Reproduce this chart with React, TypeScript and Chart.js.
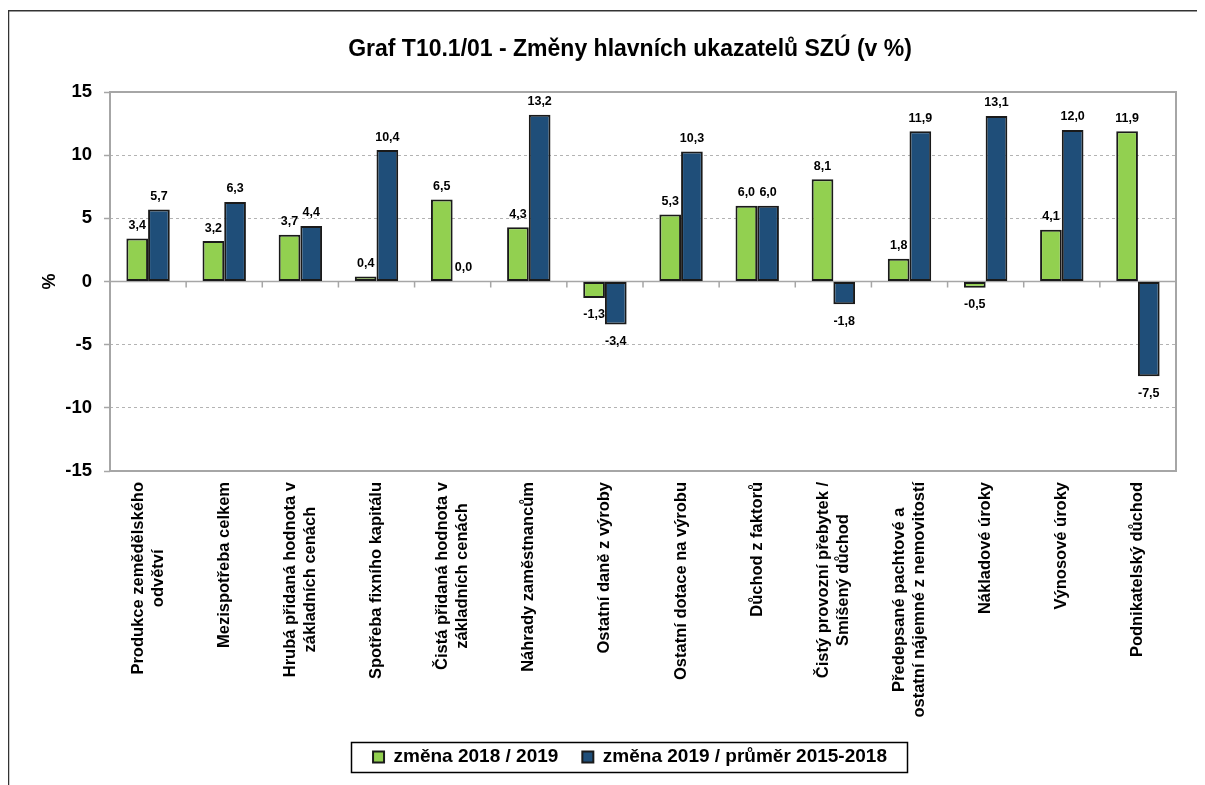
import React, { useEffect, useRef } from 'react';
import { Chart, registerables } from 'chart.js';

Chart.register(...registerables);

const titleText = 'Graf T10.1/01 - Změny hlavních ukazatelů SZÚ (v %)';
const yAxisTitle = '%';

const categories: string[][] = [
  ['Produkce zemědělského', 'odvětví'],
  ['Mezispotřeba celkem'],
  ['Hrubá přidaná hodnota v', 'základních cenách'],
  ['Spotřeba fixního kapitálu'],
  ['Čistá přidaná hodnota v', 'základních cenách'],
  ['Náhrady zaměstnancům'],
  ['Ostatní daně z výroby'],
  ['Ostatní dotace na výrobu'],
  ['Důchod z faktorů'],
  ['Čistý provozní přebytek /', 'Smíšený důchod'],
  ['Předepsané pachtové a', 'ostatní nájemné z nemovitostí'],
  ['Nákladové úroky'],
  ['Výnosové úroky'],
  ['Podnikatelský důchod'],
];

const seriesNames = ['změna 2018 / 2019', 'změna 2019 / průměr 2015-2018'];
const change2018to2019 = [3.4, 3.2, 3.7, 0.4, 6.5, 4.3, -1.3, 5.3, 6.0, 8.1, 1.8, -0.5, 4.1, 11.9];
const change2019vsAvg = [5.7, 6.3, 4.4, 10.4, 0.04, 13.2, -3.4, 10.3, 6.0, -1.8, 11.9, 13.1, 12.0, -7.5];

const yMin = -15;
const yMax = 15;
const yStep = 5;

const FONT = "'Liberation Sans', Arial, sans-serif";
const GREEN = '#92D050';
const BLUE = '#1F4E79';
const EDGE = '#1a1a1a';
const AXIS_GRAY = '#a6a6a6';

const W = 1197;
const H = 777;

export default function App() {
  const ref = useRef<HTMLCanvasElement>(null);

  useEffect(() => {
    document.body.style.overflow = 'hidden';
    const canvas = ref.current;
    if (!canvas) return;

    const decor = {
      id: 'decor',
      beforeDraw(chart: any) {
        const { ctx, width, height } = chart;
        ctx.save();
        ctx.fillStyle = '#ffffff';
        ctx.fillRect(0, 0, width, height);
        ctx.strokeStyle = '#333333';
        ctx.lineWidth = 1.5;
        ctx.beginPath();
        ctx.moveTo(0.5, height);
        ctx.lineTo(0.5, 2.75);
        ctx.lineTo(width, 2.75);
        ctx.stroke();
        ctx.restore();
      },
      beforeDatasetsDraw(chart: any) {
        const { ctx, chartArea } = chart;
        const xs = chart.scales.x;
        const ys = chart.scales.y;
        const { left, right, top, bottom } = chartArea;
        ctx.save();
        ctx.strokeStyle = AXIS_GRAY;
        ctx.lineWidth = 2;
        ctx.strokeRect(left, top, right - left, bottom - top);
        const y0 = ys.getPixelForValue(0);
        ctx.lineWidth = 1.5;
        ctx.beginPath();
        ctx.moveTo(left, y0);
        ctx.lineTo(right, y0);
        const n = categories.length;
        for (let i = 0; i <= n; i++) {
          let bx: number;
          if (i === 0) bx = left;
          else if (i === n) bx = right;
          else bx = (xs.getPixelForValue(i - 1) + xs.getPixelForValue(i)) / 2;
          ctx.moveTo(bx, y0);
          ctx.lineTo(bx, y0 + 6);
        }
        ctx.stroke();
        ctx.restore();
      },
      afterDatasetsDraw(chart: any) {
        const { ctx } = chart;
        ctx.save();
        ctx.font = `bold 12.5px ${FONT}`;
        ctx.fillStyle = '#000';
        ctx.textAlign = 'center';
        ctx.textBaseline = 'middle';
        chart.data.datasets.forEach((ds: any, di: number) => {
          const meta = chart.getDatasetMeta(di);
          meta.data.forEach((bar: any, i: number) => {
            const v = ds.data[i] as number;
            const txt = v.toFixed(1).replace('.', ',');
            const y = v >= 0 ? bar.y - 13 : bar.y + 17;
            ctx.fillText(txt, bar.x, y);
          });
        });
        ctx.restore();
      },
      afterDraw(chart: any) {
        const { ctx, chartArea } = chart;
        const xs = chart.scales.x;
        const ys = chart.scales.y;
        ctx.save();
        // y tick labels
        ctx.font = `bold 18.5px ${FONT}`;
        ctx.fillStyle = '#000';
        ctx.textAlign = 'right';
        ctx.textBaseline = 'middle';
        ys.ticks.forEach((t: any) => {
          ctx.fillText(String(t.value), chartArea.left - 18, ys.getPixelForValue(t.value));
        });
        // category labels
        ctx.font = `bold 16.5px ${FONT}`;
        ctx.textAlign = 'center';
        const startY = chartArea.bottom + 11;
        categories.forEach((lines, i) => {
          const cx = xs.getPixelForValue(i);
          const maxW = Math.max(...lines.map((l) => ctx.measureText(l).width));
          ctx.save();
          ctx.translate(cx, startY + maxW / 2);
          ctx.rotate(-Math.PI / 2);
          lines.forEach((l, j) => {
            ctx.fillText(l, 0, (j - (lines.length - 1) / 2) * 20);
          });
          ctx.restore();
        });
        // legend frame
        const hb = chart.legend && chart.legend.legendHitBoxes;
        if (hb && hb.length) {
          const l = Math.min(...hb.map((h: any) => h.left)) - 22;
          const r = Math.max(...hb.map((h: any) => h.left + h.width)) + 20;
          const cy = hb[0].top + hb[0].height / 2;
          ctx.strokeStyle = '#000';
          ctx.lineWidth = 1.5;
          ctx.strokeRect(Math.round(l) + 0.5, Math.round(cy - 15) + 0.5, Math.round(r - l), 30);
        }
        ctx.restore();
      },
    };

    const chart = new Chart(canvas, {
      type: 'bar',
      data: {
        labels: categories,
        datasets: [
          {
            label: seriesNames[0],
            data: change2018to2019,
            backgroundColor: GREEN,
            borderColor: EDGE,
            borderWidth: 2,
            borderSkipped: false,
            categoryPercentage: 0.57,
            barPercentage: 1,
          },
          {
            label: seriesNames[1],
            data: change2019vsAvg,
            backgroundColor: BLUE,
            borderColor: EDGE,
            borderWidth: 2,
            borderSkipped: false,
            categoryPercentage: 0.57,
            barPercentage: 1,
          },
        ],
      },
      options: {
        responsive: false,
        animation: false,
        layout: { padding: { left: 76, right: 29, top: 0, bottom: 8.5 } },
        plugins: {
          title: {
            display: true,
            text: titleText,
            color: '#000',
            font: { family: FONT, size: 23, weight: 'bold' },
            padding: { top: 28, bottom: 28.4 },
          },
          legend: {
            position: 'bottom',
            labels: {
              color: '#000',
              font: { family: FONT, size: 19, weight: 'bold' },
              boxWidth: 11,
              boxHeight: 11,
              padding: 24,
            },
          },
          tooltip: { enabled: false },
        },
        scales: {
          x: {
            offset: true,
            afterFit: (s: any) => {
              s.height = 252.5;
            },
            ticks: { display: false },
            grid: { display: false },
            border: { display: false },
          },
          y: {
            min: yMin,
            max: yMax,
            afterFit: (s: any) => {
              s.width = 26;
            },
            ticks: {
              display: false,
              stepSize: yStep,
            },
            grid: {
              color: (c: any) =>
                c.tick && (c.tick.value === 0 || Math.abs(c.tick.value) === 15) ? 'rgba(0,0,0,0)' : '#b3b3b3',
              lineWidth: 1,
              tickLength: 6,
              tickColor: AXIS_GRAY,
              tickWidth: 1.5,
              tickBorderDash: [],
            },
            border: { display: false, dash: [3, 3] },
            title: {
              display: true,
              text: yAxisTitle,
              color: '#000',
              font: { family: FONT, size: 18, weight: 'bold' },
              padding: { top: -44.8, bottom: 0 },
            },
          },
        },
      },
      plugins: [decor],
    });

    return () => {
      chart.destroy();
    };
  }, []);

  return (
    <div style={{ width: W, height: H }}>
      <canvas ref={ref} width={W} height={H} style={{ display: 'block' }} />
    </div>
  );
}
